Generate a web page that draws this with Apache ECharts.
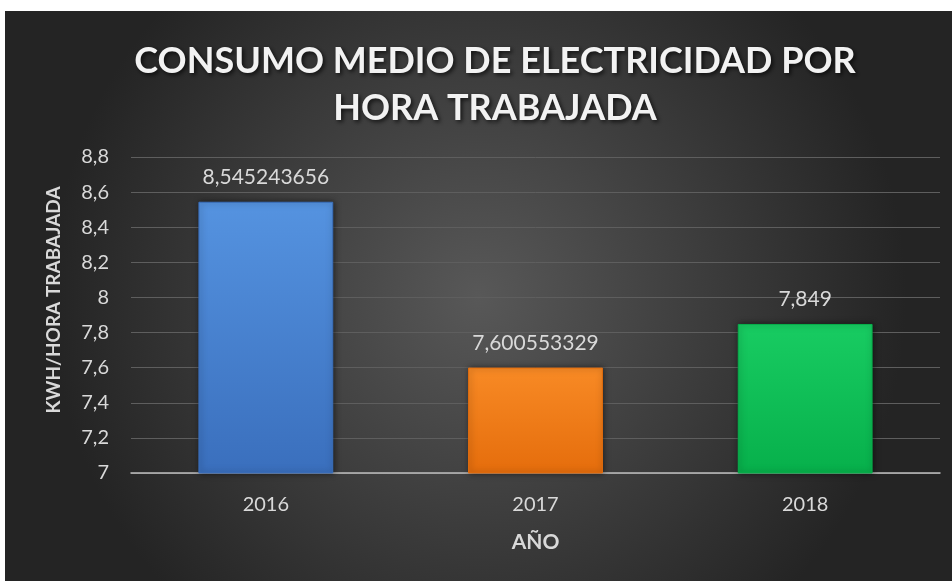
<!DOCTYPE html>
<html>
<head>
<meta charset="utf-8">
<script src="https://cdn.jsdelivr.net/npm/echarts@6/dist/echarts.min.js"></script>
<style>
html,body{margin:0;padding:0;background:#fff;}
#c{position:absolute;left:5px;top:11px;width:947px;height:570px;}
</style>
</head>
<body>
<div id="c"></div>
<script>
const categories = ['2016', '2017', '2018'];
const values = [8.545243656, 7.600553329, 7.849];
const valueLabels = ['8,545243656', '7,600553329', '7,849'];
const yTicks = [7, 7.2, 7.4, 7.6, 7.8, 8, 8.2, 8.4, 8.6, 8.8];

const colors = [
  ['#5593e0', '#3a6fbd'],
  ['#f88a25', '#e56d0c'],
  ['#18cc62', '#07b04b']
];

const chart = echarts.init(document.getElementById('c'));
const font = 'Lato, "Open Sans", sans-serif';
chart.setOption({
  backgroundColor: {
    type: 'radial', x: 0.5, y: 0.5, r: 0.75,
    colorStops: [{offset: 0, color: '#585858'}, {offset: 1, color: '#242424'}]
  },
  title: {
    text: 'CONSUMO MEDIO DE ELECTRICIDAD POR\nHORA TRABAJADA',
    left: 485, top: 22, textAlign: 'center',
    textStyle: {
      color: '#f2f2f2', fontFamily: font, fontWeight: 'bold', fontSize: 36,
      lineHeight: 47,
      textShadowColor: 'rgba(0,0,0,0.7)', textShadowBlur: 4, textShadowOffsetX: 2, textShadowOffsetY: 2
    }
  },
  grid: {left: 126, right: 12, top: 146, bottom: 108},
  xAxis: {
    type: 'category',
    data: categories,
    name: 'AÑO', nameLocation: 'middle', nameGap: 59,
    nameTextStyle: {color: '#d9d9d9', fontFamily: font, fontWeight: 'bold', fontSize: 21},
    axisLine: {lineStyle: {color: '#bfbfbf', width: 1.5}},
    axisTick: {show: false},
    axisLabel: {color: '#d9d9d9', fontFamily: font, fontSize: 20, margin: 22}
  },
  yAxis: {
    type: 'value', min: 7, max: 8.8, interval: 0.2,
    name: 'KWH/HORA TRABAJADA', nameLocation: 'middle', nameGap: 68, nameRotate: 90,
    nameTextStyle: {color: '#d9d9d9', fontFamily: font, fontWeight: 'bold', fontSize: 19, padding: [0, 0, 0, 30]},
    axisLine: {show: false},
    axisTick: {show: false},
    splitLine: {lineStyle: {color: '#5e5e5e', width: 1}},
    axisLabel: {
      color: '#d9d9d9', fontFamily: font, fontSize: 20, margin: 22,
      formatter: v => {
        const t = yTicks.find(x => Math.abs(x - v) < 1e-6);
        return t === undefined ? '' : String(Math.round(t * 10) / 10).replace('.', ',');
      }
    }
  },
  series: [{
    type: 'bar',
    barWidth: '50%',
    data: values.map((v, i) => ({
      value: v,
      itemStyle: {
        color: {type: 'linear', x: 0, y: 0, x2: 0, y2: 1,
          colorStops: [{offset: 0, color: colors[i][0]}, {offset: 1, color: colors[i][1]}]},
        borderColor: colors[i][1], borderWidth: 1,
        shadowColor: 'rgba(0,0,0,0.5)', shadowBlur: 6, shadowOffsetX: 1, shadowOffsetY: 0
      },
      label: {formatter: valueLabels[i]}
    })),
    label: {
      show: true, position: 'top', distance: 14,
      color: '#d9d9d9', fontFamily: font, fontSize: 21
    }
  }]
});
</script>
</body>
</html>
